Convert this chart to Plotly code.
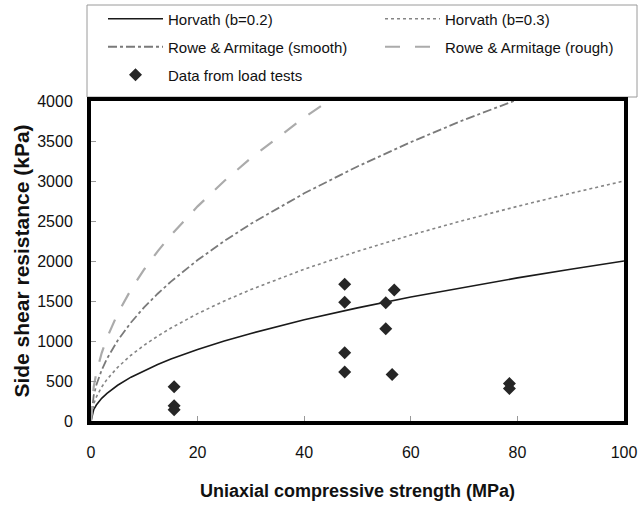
import plotly.graph_objects as go

# Uniaxial compressive strength (MPa) at which the design curves were read
ucs = [0, 0.5, 1, 2, 3, 5, 7.5, 10, 12.5, 15, 20, 25, 30, 40, 50, 60, 70, 80, 90, 100]
# Side shear resistance (kPa)
horvath_02 = [0, 141, 200, 283, 346, 447, 548, 632, 707, 775, 894, 1000, 1095, 1265, 1414, 1549, 1673, 1789, 1897, 2000]
horvath_03 = [0, 212, 300, 424, 520, 671, 822, 949, 1061, 1162, 1342, 1500, 1643, 1897, 2121, 2324, 2510, 2683, 2846, 3000]
rowe_smooth = [0, 318, 450, 636, 779, 1006, 1232, 1423, 1591, 1743, 2012, 2250, 2465, 2846, 3182, 3486, 3765, 4025, 4269, 4500]
rowe_rough = [0, 424, 600, 849, 1039, 1342, 1643, 1897, 2121, 2324, 2683, 3000, 3286, 3795, 4243, 4648, 5020, 5367, 5692, 6000]

# Load test data
test_ucs = [15.6, 15.6, 15.6, 47.6, 47.6, 47.6, 47.6, 55.3, 55.3, 56.5, 56.9, 78.5, 78.5]
test_fs = [429, 190, 140, 1709, 1484, 854, 612, 1479, 1154, 580, 1638, 470, 405]

x_ticks = [0, 20, 40, 60, 80, 100]
y_ticks = [0, 500, 1000, 1500, 2000, 2500, 3000, 3500, 4000]

FONT = "Liberation Sans, Arial, sans-serif"

fig = go.Figure()
fig.add_trace(go.Scatter(x=ucs, y=horvath_02, mode="lines", name="Horvath (b=0.2)",
                         line=dict(color="#1a1a1a", width=1.6), legend="legend"))
fig.add_trace(go.Scatter(x=ucs, y=horvath_03, mode="lines", name="Horvath (b=0.3)",
                         line=dict(color="#858585", width=1.6, dash="dot"), legend="legend"))
fig.add_trace(go.Scatter(x=ucs, y=rowe_smooth, mode="lines", name="Rowe & Armitage (smooth)",
                         line=dict(color="#7a7a7a", width=1.8, dash="dashdot"), legend="legend2"))
fig.add_trace(go.Scatter(x=ucs, y=rowe_rough, mode="lines", name="Rowe & Armitage (rough)",
                         line=dict(color="#ababab", width=2.2, dash="longdash"), legend="legend2"))
fig.add_trace(go.Scatter(x=test_ucs, y=test_fs, mode="markers", name="Data from load tests",
                         marker=dict(symbol="diamond", size=10, color="#262626"), legend="legend3"))

W, H = 639, 507
ml, mr, mt, mb = 91, 15, 101, 86
pw, ph = W - ml - mr, H - mt - mb

def px_x(p):
    return (p - ml) / pw

def px_y(p):
    return (H - mb - p) / ph

leg_common = dict(orientation="h", xanchor="left", yanchor="middle",
                  xref="paper", yref="paper",
                  font=dict(family=FONT, size=15, color="#111"),
                  bgcolor="rgba(0,0,0,0)", borderwidth=0, indentation=17,
                  itemwidth=55, entrywidth=190, entrywidthmode="pixels")

fig.update_layout(
    width=W, height=H,
    margin=dict(l=ml, r=mr, t=mt, b=mb, autoexpand=False),
    paper_bgcolor="white", plot_bgcolor="white",
    font=dict(family=FONT, size=16, color="#111"),
    legend=dict(x=px_x(86), y=px_y(19), **leg_common),
    legend2=dict(x=px_x(86), y=px_y(47), **leg_common),
    legend3=dict(x=px_x(86), y=px_y(75), **leg_common),
    shapes=[dict(type="rect", xref="paper", yref="paper",
                 x0=px_x(87), x1=px_x(637), y0=px_y(97), y1=px_y(5),
                 line=dict(color="#9a9a9a", width=1), fillcolor="rgba(0,0,0,0)", layer="below")],
    xaxis=dict(range=[0, 100], tickvals=x_ticks, ticktext=[str(v) for v in x_ticks],
               showgrid=False, zeroline=False, showline=True, mirror=True,
               linecolor="black", linewidth=4, ticks="inside", ticklen=5, tickcolor="#999",
               tickfont=dict(family=FONT, size=16, color="#111"), ticklabelstandoff=14,
               title=dict(text="<b>Uniaxial compressive strength (MPa)</b>",
                          font=dict(family=FONT, size=18, color="#111"), standoff=25)),
    yaxis=dict(range=[0, 4000], tickvals=y_ticks, ticktext=[str(v) for v in y_ticks],
               showgrid=False, zeroline=False, showline=True, mirror=True,
               linecolor="black", linewidth=4, ticks="inside", ticklen=5, tickcolor="#999",
               tickfont=dict(family=FONT, size=16, color="#111"), ticklabelstandoff=11,
               title=dict(text="<b>Side shear resistance (kPa)</b>",
                          font=dict(family=FONT, size=21, color="#111"), standoff=3)),
)

fig.write_html("out.html")
